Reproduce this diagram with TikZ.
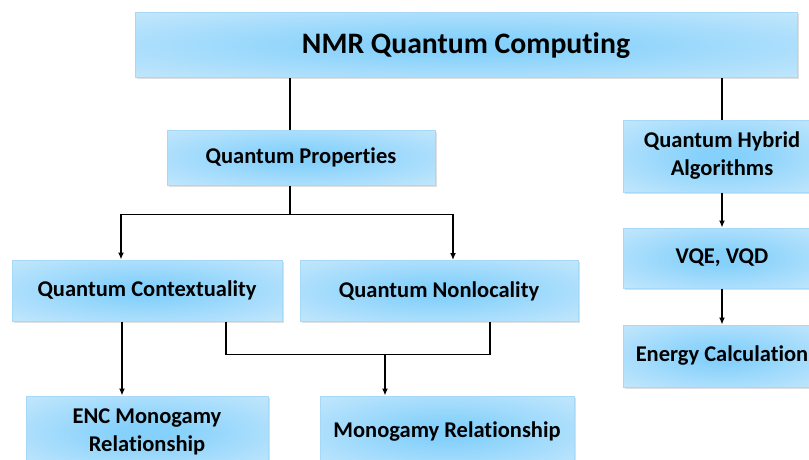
\documentclass[tikz,border=0pt]{standalone}
\usepackage{fontspec}
\setmainfont{Carlito}[RawFeature=-liga]
\usepackage{tikz}
\usetikzlibrary{arrows.meta,shadows}

\definecolor{GlowIn}{HTML}{86D1FB}
\definecolor{GlowOut}{HTML}{E0F1FD}
\definecolor{BoxLine}{HTML}{A6D9F7}
\pgfdeclareradialshading{boxglow}{\pgfpoint{0bp}{0bp}}{color(0bp)=(GlowIn); color(6bp)=(GlowIn); color(50bp)=(GlowOut)}

\tikzset{
    box/.style={draw=BoxLine, line width=1pt, shading=boxglow,
        drop shadow={opacity=0.25, shadow xshift=1.5pt, shadow yshift=-1.5pt},
        font=\bfseries\fontsize{22.5}{28}\selectfont, align=center, inner sep=0pt},
    link/.style={line width=1.3pt, black},
    arrow/.style={link, -{Latex[length=7pt, width=6pt]}}
}

\begin{document}
\begin{tikzpicture}[x=1pt, y=-1pt]
        \clip (0,0) rectangle (809,460);
        \useasboundingbox (0,0) rectangle (809,460);

        \node[box, minimum width=662pt, minimum height=65pt, font=\bfseries\fontsize{29.7}{35}\selectfont] (top) at (466,45.5) {NMR Quantum Computing};
        \node[box, minimum width=268pt, minimum height=55pt] (props) at (301,157.5) {Quantum Properties};
        \node[box, minimum width=198pt, minimum height=72pt] (hybrid) at (722,156) {Quantum Hybrid\\Algorithms};
        \node[box, minimum width=198pt, minimum height=60pt] (vqe) at (722,258) {VQE, VQD};
        \node[box, minimum width=198pt, minimum height=62pt] (energy) at (722,356) {Energy Calculation};
        \node[box, minimum width=270pt, minimum height=61pt] (context) at (147,290.5) {Quantum Contextuality};
        \node[box, minimum width=278pt, minimum height=61pt] (nonloc) at (439,291) {Quantum Nonlocality};
        \node[box, minimum width=242pt, minimum height=72pt] (enc) at (147,432) {ENC Monogamy\\Relationship};
        \node[box, minimum width=254pt, minimum height=72pt] (mono) at (447,432) {Monogamy Relationship};

        \draw[link] ([xshift=-11pt]props.north) -- ([xshift=-11pt]props.north |- top.south);
        \draw[link] (top.south -| hybrid.north) -- (hybrid.north);

        \draw[link] ([xshift=-11pt]props.south) -- ++(0,29) coordinate (fork);
        \draw[arrow] (fork) -| ([xshift=-26pt]context.north);
        \draw[arrow] (fork) -| ([xshift=14pt]nonloc.north);

        \draw[arrow] ([xshift=-25pt]context.south) -- ([xshift=-25pt]context.south |- enc.north);
        \draw[link] ([xshift=79pt]context.south) -- ++(0,33) -| ([xshift=51pt]nonloc.south);
        \coordinate (merge) at (385,354);
        \draw[arrow] (merge) -- (merge |- mono.north);

        \draw[arrow] (hybrid) -- (vqe);
        \draw[arrow] (vqe) -- (energy);
    \end{tikzpicture}
\end{document}
